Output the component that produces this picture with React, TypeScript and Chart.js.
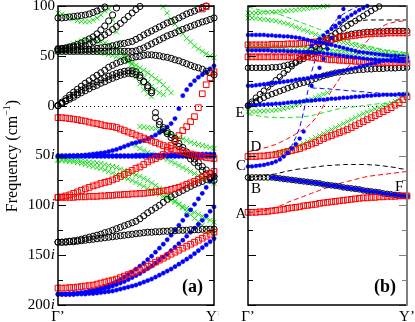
import React, { useEffect, useRef } from 'react';
import { Chart, registerables } from 'chart.js';
Chart.register(...registerables);

const _ = null;
type S = (number | null)[];

// wave-vector positions from Γ' (0) to Y' (1)
const K = [0, 0.025, 0.05, 0.075, 0.1, 0.125, 0.15, 0.175, 0.2, 0.225, 0.25, 0.275, 0.3, 0.325, 0.35, 0.375, 0.4, 0.425, 0.45, 0.475, 0.5, 0.525, 0.55, 0.575, 0.6, 0.625, 0.65, 0.675, 0.7, 0.725, 0.75, 0.775, 0.8, 0.825, 0.85, 0.875, 0.9, 0.925, 0.95, 0.975, 1];
const Y_TICKS = [100, 50, 0, -50, -100, -150, -200];
const X_LABELS = ['Γ’', 'Y’'];
const PANEL_LABELS = ['(a)', '(b)'];

// ---------- panel (a): frequencies in cm^-1, imaginary ones as negative ----------
const aBlack1: S = [0, 3.5, 7, 10.5, 13.5, 16.5, 19.5, 22.5, 25, 28, 30.5, 33, 35.5, 38.5, 40.5, 42.5, 44, 45.5, 47, 48, 49, 49.5, 50.5, 51, 51, 50.5, 50, 49, 48.5, 47.5, 46, 45, 43.5, 42, 40.5, 39, 38, 36.5, 34.5, 33, 31];
const aBlack2: S = [0, 2.5, 5, 8, 10.5, 13, 15.5, 18, 20, 22, 24, 26, 28, 29.5, 31, 32.5, 33.5, 34.5, 35, 35, 34, 30.5, 24, 18, 13, -7, -16, -22, -26, -29, -33, -38, -42, -46.5, -50, -53.5, -57, -61, -64.5, -68, -71];
const aBlack3: S = [0, 2, 4.5, 6.5, 8.5, 11, 13, 15, 17, 19, 20.5, 22.5, 24, 26, 27.5, 29, 30.5, 31.5, 32.5, 32, 31, 28, 24, 20, 15, -12, -19, -24, -28, -32, -36, -41, -45, -49.5, -53.5, -57, -61, -65, -68.5, -72, -75];
const aBlack4: S = [88, 88, 88.5, 89, 89.5, 90, 90.5, 91, 92, 93.5, 95, 97, 99, _, _, _, _, _, _, _, _, _, _, _, _, _, _, _, _, _, _, _, _, _, _, _, _, _, _, _, _];
const aBlack5: S = [57, 57.5, 58, 59, 60, 61.5, 63, 65, 67, 69, 72, 76, 80, 85, 91, 98, _, _, _, _, _, _, _, _, _, _, _, _, _, _, _, _, _, _, _, _, _, _, _, _, _];
const aBlack6: S = [57, 57, 57.5, 58, 58.5, 59, 59.5, 60.5, 62, 64, 66, 68.5, 71, 73.5, 76.5, 79.5, 82.5, 86, 89.5, 93, 96.5, 99.5, _, _, _, _, _, _, _, _, _, _, _, _, _, _, _, _, _, _, _];
const aBlack7: S = [56, 56, 56, 56, 56, 56, 56, 56.5, 56.5, 57, 57.5, 58, 58.5, 59, 60, 61, 62, 62.5, 63.5, 64.5, 66.5, 68.5, 71, 73, 75, 77, 79, 81, 83, 84.5, 86, 88, 90, 92, 93.5, 95, 97, 98.5, 100, _, _];
const aBlack8: S = [54.5, 54.5, 54.5, 54.5, 54.5, 54.5, 54.5, 54.5, 54.5, 54.5, 54.5, 54.5, 54.5, 54.5, 54.5, 54.5, 54.5, 54.5, 54.5, 54.5, 55, 56.5, 58, 60, 62, 64, 66, 68, 70, 71.5, 73, 75, 76.5, 78, 79.5, 81, 82.5, 84, 85, 86.5, 88];
const aBlack9: S = [-137, -137, -137, -136.5, -136.5, -136, -135.5, -135, -134.5, -134, -133.5, -133, -132.5, -132, -131.5, -131, -130.5, -130, -129.5, -129, -128.5, -128, -127.5, -127, -127, -126.5, -126.5, -126, -126, -125.5, -125.5, -125, -125, -125, -124.5, -124.5, -124.5, -124, -124, -124, -124];
const aBlack10: S = [-137, -137, -136.5, -136, -135.5, -135, -134, -133, -132, -131, -130, -129, -127.5, -126.5, -125, -123.5, -122, -120.5, -119, -117.5, -116, -113.5, -110.5, -107.5, -105, -102.5, -100, -97, -94, -91.5, -89, -87, -85, -83, -81, -79, -77.5, -76, -74, -72.5, -71];

const aRed1: S = [-12, -12, -12.5, -13, -13.5, -14, -15, -15.5, -16.5, -17.5, -18, -19, -20, -20.5, -21, -22, -23.5, -25, -26.5, -28, -29.5, -31, -32.5, -34, -35.5, -37, -38.5, -40, -41.5, -43, -44.5, -45.5, -46.5, -47.5, -48.5, -49.5, -50.5, -51, -52, -52.5, -53];
const aRed2: S = [-92, -91.5, -90.5, -89.5, -88, -86.5, -85, -83.5, -82, -80.5, -79.5, -78, -77, -76, -74.5, -73, -71, -69, -67, -65, -63, -61.5, -59, -56.5, -54.5, -53, -51, -49, -45, -40, -35, -30, -25, -21, -16, -11, -2, 12, 21, 28, 34];
const aRed3: S = [-92, -92, -92, -92, -92, -91.5, -91.5, -91.5, -91, -91, -91, -90.5, -90.5, -90, -90, -89.5, -89.5, -89, -89, -88.5, -88.5, -88, -88, -87.5, -87, -86.5, -86, -85.5, -85, -84, -83, -82, -80.5, -79, -77.5, -76, -74, -72, -70, -68, -66];
const aRed4: S = [-183, -183, -183, -182.5, -182.5, -182, -181.5, -181, -180.5, -180, -179, -178, -177, -176, -175, -174, -172.5, -171, -169.5, -168, -166.5, -165, -163, -161, -159, -157, -155, -153, -151, -149, -147, -145, -143, -141, -139, -137, -135, -133, -131, -129, -127];
const aRed5: S = [_, _, _, _, _, _, _, _, _, _, _, _, _, _, _, _, _, _, _, _, _, _, _, _, _, _, _, _, _, _, _, _, _, _, _, _, _, 97, 99.5, _, _];

const aBlue1: S = [-51, -51, -51, -51, -51, -51, -51, -51, -51, -51, -51, -51, -51, -51, -51, -51, -51, -51, -51, -51, -51, -51, -51, -51, -51, -51, -51, -51, -51, -51, -51, -51, -51, -51, -51, -51, -51, -51, -51, -51, -51];
const aBlue2: S = [-50, -50, -50, -50, -50, -50, -50, -50, -50, -50, -50, -50, -50, -50, -50, -50, -50, -50, -50, -50, -49.5, -49.5, -49.5, -49.5, -49.5, -49.5, -49.5, -49.5, -49, -49, -49, -49, -49, -49, -49, -48.5, -48.5, -48.5, -48.5, -48.5, -48.5];
const aBlue3: S = [-51, -51, -51, -50.5, -50.5, -50, -50, -49.5, -49, -48.5, -48, -47.5, -47, -46, -45, -44, -42.5, -41, -39.5, -38, -37, -36, -35, -33.5, -31.5, -29.5, -27, -24.5, -21.5, -18, -13, -3, 10, 16, 21, 25, 28.5, 31, 34, 37, 40];
const aBlue4: S = [-189, -189, -189, -188.5, -188.5, -188, -187.5, -187, -186, -185, -184, -183, -181.5, -180, -178.5, -176.5, -174.5, -172, -169.5, -167, -164, -161, -158, -154.5, -151, -147, -143, -139, -134.5, -130, -125, -120, -115, -110, -104.5, -99, -93.5, -88, -82, -76, -70];
const aBlue5: S = [-189, -189, -189, -189, -188.5, -188.5, -188, -187.5, -187, -186.5, -185.5, -184.5, -183.5, -182.5, -181, -179.5, -178, -176.5, -174.5, -172.5, -170.5, -168.5, -166, -163.5, -161, -158, -155, -152, -149, -145.5, -142, -138.5, -135, -131, -127, -123, -119, -115, -110.5, -106, -101.5];
const aBlue6: S = [-189.5, -189.5, -189.5, -189.5, -189.5, -189, -189, -189, -188.5, -188.5, -188, -187.5, -187, -186.5, -186, -185, -184, -183, -182, -181, -180, -178.5, -177, -175.5, -174, -172, -170, -168, -166, -164, -161.5, -159, -156.5, -154, -151.5, -148.5, -145.5, -142.5, -139.5, -136.5, -133.5];

const aGreen1: S = [93, 92, 90.5, 88.5, 87, 85.5, 84.5, 84, 84.5, 86, 88, 91, 95, 97, 86, 74, 63, 52, 44, 37, 29, 22, 16, 12, 9, _, _, _, _, _, _, _, _, _, _, _, _, _, _, _, _];
const aGreen2: S = [55, 56.5, 58, 60, 62, 63.5, 65, 66, 66, 65.5, 65, 64, 63, 61, 59, 56.5, 53.5, 50, 46, 41.5, 37, 32.5, 28, 23.5, 19.5, 16, 13, 11, _, _, _, _, _, _, _, _, _, _, _, _, _];
const aGreen3: S = [54, 54, 54, 54, 54, 54, 54, 54, 54, 54, 54, 53.5, 52.5, 51.5, 50.5, 49, 48, 46.5, 44.5, 42.5, 40.5, 38, 35.5, 33, 30, 27, 24.5, 21, 17, 13, _, _, _, _, _, _, _, _, _, _, _];
const aGreen4: S = [_, _, _, _, _, _, _, _, _, _, _, _, _, _, _, _, _, _, _, _, _, _, _, _, _, _, _, 99, 93, 87, 82, 77, 72, 67.5, 64, 60, 57, 54.5, 52, 50, 48];
const aGreen5: S = [-54, -54, -54, -54.5, -54.5, -55, -55.5, -56, -56.5, -57, -57.5, -58, -59, -60, -61, -62, -63.5, -65, -66.5, -68, -69.5, -71, -73, -75, -77.5, -80, -83, -86, -89, -92, -95.5, -99, -102.5, -106, -109.5, -113, -116.5, -120, -123.5, -127, -130.5];
const aGreen6: S = [-55, -55, -55.5, -56, -56.5, -57, -58, -59, -60, -61, -62, -63, -64.5, -66, -67.5, -69, -70.5, -72, -73.5, -75, -77, -79, -81, -83, -85, -87, -89, -91, -93, -95, -97, -99, -101, -103, -105, -107, -109, -111, -113, -115, -117];
const aGreen7: S = [_, _, _, _, _, _, _, _, _, _, _, _, _, _, _, _, _, _, _, -38, -40, -43, -45, -47, -48.5, -50, -51, -52.5, -54, -56, -58, -60, -62, -64, -66, -68, -70, -72, -74, -76, -78];
const aGreen8: S = [_, _, _, _, _, _, _, _, _, _, _, _, _, _, _, _, _, _, _, _, _, -21, -21.5, -22, -22.5, -23, -24.5, -26, -27.5, -29, -30.5, -32, -33.5, -35, -36.5, -38, -39, -40, -41, -42, -43];

// ---------- panel (b) ----------
const bRed1: S = [-107, -107, -107, -106.5, -106.5, -106, -105.5, -105, -104.5, -104, -103, -102.5, -102, -101.5, -100.5, -100, -99.5, -99, -98, -97.5, -97, -96.5, -96, -95.5, -95, -94.5, -94, -93.5, -93, -92.5, -92.5, -92, -92, -91.5, -91.5, -91, -91, -91, -90.5, -90.5, -90.5];
const bRed2: S = [-51, -51, -51, -50.5, -50.5, -50, -49.5, -49, -48, -47, -46, -45, -44, -43, -41.5, -40, -38.5, -37, -35, -33, -31.5, -30, -28.5, -27, -25.5, -24, -22, -20, -18, -16, -14, -12, -10, -8, -6, -4, -2, 0.5, 3, 6, 9];
const bRed3: S = [49, 49, 49, 49, 49, 49, 49, 49, 49, 49, 49, 49, 49, 49, 49, 49, 48.5, 48, 47.5, 47, 46.5, 46, 46, 45.5, 45.5, 45, 45, 44.5, 44.5, 44, 44, 44, 43.5, 43.5, 43.5, 43, 43, 43, 43, 43, 43];
const bRed4: S = [61, 61, 61, 61, 61, 61, 61.5, 61.5, 61.5, 61.5, 62, 62, 62, 62.5, 62.5, 63, 63.5, 64, 64.5, 65, 65.5, 66.5, 67.5, 68.5, 69, 69.5, 70, 70.5, 71, 71.5, 72, 72, 72.5, 72.5, 72.5, 73, 73, 73, 73, 73, 73];
const bRedDash1: S = [-107, -107, -106.5, -106, -105.5, -104.5, -103.5, -102, -100.5, -99, -97, -95.5, -94, -92.5, -91, -89.5, -88, -86.5, -85, -83.5, -82, -80.5, -79, -78, -77, -76, -75, -74, -73, -72, -71, -70.5, -70, -69.5, -69, -68.5, -68, -67.5, -67, -66.5, -66];
const bRedDash2: S = [-46, -45.5, -44.5, -43.5, -42.5, -41.5, -40, -39, -37, -35, -33, -31, -28.5, -26, -23.5, -21, -17, -12.5, -7, 0, 8, 15, 21, 27, 33, 38, 43, 49, 55, 60, 65, 69.5, 73.5, 77, 80, 82, 83, 84, 84.5, 85, 85];
const bRedDash3: S = [51, 51, 51, 51, 51, 51, 51, 51, 51, 51, 50.5, 50.5, 50.5, 50, 50, 50, 49.5, 49.5, 49, 49, 48.5, 48.5, 48, 48, 47.5, 47.5, 47, 47, 47, 46.5, 46.5, 46.5, 46, 46, 46, 46, 46, 46, 46, 46, 46];

const bBlack1: S = [-72, -72, -72, -72, -72, -72, -72, -72.5, -73, -73.5, -74, -74.5, -75, -75.5, -76, -76.5, -77, -77.5, -78, -79, -79.5, -80, -80.5, -81, -82, -82.5, -83, -83.5, -84, -85, -85.5, -86, -86.5, -87, -88, -88.5, -89, -89.5, -90, -90.5, -91];
const bBlack2: S = [0, 4, 8, 11.5, 15, 18.5, 22, 25.5, 29, 32.5, 36, 39.5, 43, 46.5, 50, 53, 56, 59, 62, 65, 67.5, 70, 72.5, 75, 77.5, 80, 82.5, 85, 87.5, 90, 92.5, 95, 97.5, 99.5, _, _, _, _, _, _, _];
const bBlack3: S = [0, 2, 4, 6, 8, 10, 11.5, 13, 14.5, 16, 17.5, 19, 20.5, 22, 23, 24, 25.5, 27, 28.5, 30, 31, 32, 33, 33.5, 34, 34.5, 35, 35.5, 36, 36, 36.5, 36.5, 37, 37, 37, 37.5, 37.5, 37.5, 38, 38, 38];
const bBlack4: S = [38, 38, 38, 38, 38, 38, 38.5, 38.5, 39, 40, 41, 42, 43.5, 45, 47, 49, 51.5, 54, 57, 60, 62.5, 65, 67, 68.5, 70, 71, 72, 72.5, 73, 73.5, 74, 74, 74.5, 74.5, 74.5, 75, 75, 75, 75, 75, 75];
const bBlackDash1: S = [-72, -71.5, -71, -70.5, -70, -69.5, -69, -68.5, -67.5, -66.5, -65.5, -65, -64, -63.5, -63, -62.5, -62, -61.5, -61, -60.5, -60, -60, -59.5, -59.5, -59, -59, -59, -59, -59, -59, -59, -59.5, -59.5, -60, -60.5, -61, -61.5, -62, -63, -63.5, -64.5];
const bBlackDash2: S = [0, 3.5, 7, 10.5, 14, 17.5, 21, 24, 27.5, 31, 34.5, 38, 41.5, 45, 48.5, 52, 55.5, 59, 62.5, 66, 69, 72.5, 76, 79.5, 83, 86.5, 90, 93.5, 97, 100, _, _, _, _, _, _, _, _, _, _, _];
const bBlackDash3: S = [_, _, _, _, _, _, _, _, _, _, _, _, _, _, _, _, _, _, _, _, _, 80, 81.5, 82.5, 83.5, 84, 84.5, 85, 85.5, 85.5, 86, 86, 86, 86, 86, 86, 86, 86, 86, 86, 86];

const bBlue1: S = [-61, -61, -60.5, -60, -59.5, -58.5, -57.5, -56, -54, -51, -47.5, -43, -38.5, -33, -26, _, 20, 30, 38, 47, 57, 68, 79, 89, 97, _, _, _, _, _, _, _, _, _, _, _, _, _, _, _, _];
const bBlue2: S = [0, 0.5, 0.5, 1, 1, 1.5, 1.5, 2, 2, 2.5, 3, 3.5, 3.5, 4, 4.5, 5, 5, 5.5, 6, 6, 6.5, 7, 7, 7.5, 8, 8, 8.5, 9, 9, 9.5, 10, 10, 10.5, 10.5, 11, 11, 11, 11, 11.5, 11.5, 11.5];
const bBlue3: S = [20, 20, 20.5, 21, 21.5, 22, 22.5, 23, 23.5, 24, 24.5, 25, 26, 26.5, 27, 27.5, 28.5, 29, 29.5, 30.5, 31, 32, 33, 34, 35, 36, 37, 38, 39, 40, 41, 42, 43, 44, 45, 45.5, 46, 46.5, 47, 47.5, 48];
const bBlue4: S = [55.5, 55.5, 55.5, 55.5, 55.5, 55.5, 55, 55, 55, 55, 54.5, 54.5, 54.5, 54, 54, 53.5, 53.5, 53, 53, 52.5, 52, 51.5, 51, 50.5, 50, 49.5, 49, 48.5, 48, 47.5, 47, 46.5, 46.5, 46, 46, 45.5, 45, 45, 44.5, 44.5, 44];
const bBlue5: S = [71, 71, 71, 71, 71, 70.5, 70.5, 70, 70, 69.5, 69.5, 69, 68.5, 68, 67, 66, 65, 64, 63.5, 63, 62, 61, 60, 59, 58, 57, 56, 55, 54, 53.5, 53, 52.5, 52, 51.5, 51, 50.5, 50, 50, 49.5, 49.5, 49];
const bBlue6: S = [_, _, _, _, _, _, _, _, _, _, _, _, _, _, _, _, 60, 63.5, 67, 70.5, 74, 77, 80, 83, 86, 88.5, 91, 93.5, 96, 98, 100, _, _, _, _, _, _, _, _, _, _];
const bBlue7: S = [_, _, _, _, _, _, -72, -72.5, -73, -73.5, -74, -74.5, -75, -75.5, -76, -76.5, -77, -77.5, -78, -79, -79.5, -80, -80.5, -81, -82, -82.5, -83, -83.5, -84, -85, -85.5, -86, -86.5, -87, -88, -88.5, -89, -89.5, -90, -90.5, -91];
const bBlueDash1: S = [-60, -60, -59.5, -59, -58.5, -58, -57, -56, -53, -49, -44, -40, -32, -22, -6, 14, 34, 47, 58, 67, 74, 80, 85, 89, 92, 94.5, 96.5, 98.5, 100, _, _, _, _, _, _, _, _, _, _, _, _];
const bBlueDash2: S = [_, _, _, _, _, _, _, _, _, _, _, _, _, _, _, _, 18, 17.5, 17.5, 17, 17, 16.5, 16, 16, 15.5, 15, 15, 14.5, 14, 14, 13.5, 13, 13, 12.5, 12, 11.5, 11, 10.5, 10, 9.5, 9];

const bGreen1: S = [93, 93, 93, 93, 93.5, 93.5, 94, 94, 94.5, 95, 95, 95.5, 96, 96.5, 97, 97.5, 98, 98.5, 99, 99.5, 100, _, _, _, _, _, _, _, _, _, _, _, _, _, _, _, _, _, _, _, _];
const bGreen2: S = [88, 88, 87.5, 87, 86.5, 86, 85.5, 85, 84, 83, 82, 80.5, 79, 77.5, 76, 74.5, 73, 71.5, 70, 68.5, 67.5, 66.5, 65.5, 64.5, 63.5, 62.5, 61.5, 60.5, 59.5, 58.5, 57.5, 57, 56, 55.5, 54.5, 54, 53.5, 52.5, 52, 51.5, 51];
const bGreen3: S = [59, 59, 59, 59, 59, 59, 58.5, 58.5, 58.5, 58, 58, 57.5, 57.5, 57, 57, 56.5, 56.5, 56, 56, 55.5, 55, 55, 54.5, 54, 54, 53.5, 53, 53, 52.5, 52, 52, 51.5, 51, 51, 50.5, 50.5, 50, 50, 50, 49.5, 49.5];
const bGreen4: S = [-6, -6, -6, -5.5, -5.5, -5, -5, -4.5, -4, -3, -2, -1, 0.5, 2, 3.5, 5, 6.5, 8, 10, 11.5, 13, _, _, _, _, _, _, _, _, _, _, _, _, _, _, _, _, _, _, _, _];
const bGreen5: S = [_, _, _, _, _, _, _, -48, -47, -46, -44.5, -43, -41, -39.5, -38, -36, -34, -32, -30, -28, -26, -24, -22, -20, -18, -16, -14, -12, -10, -8, -6.5, -5, -3.5, -2, -0.5, 1, 2.5, 4.5, 7, 9.5, 12];
const bGreenDash1: S = [99, 98, 97, 96, 95, 94, 93.5, 93, 91.5, 90, 88.5, 87, 85.5, 84, 82.5, 81, 79.5, 78, 76.5, 75, 73.5, 72, 70.5, 69, 67.5, 66, 64.5, 63, 62, 61, 60, 59, 58, 57, 56, 55.5, 55, 54.5, 54, 53.5, 53];
const bGreenDash2: S = [-9, -9.5, -10, -10.5, -11, -11.5, -11.5, -12, -12, -12, -12, -12, -11.5, -11.5, -11, -10.5, -10, -9, -8, -7, -6, -5, -4, -3, -2.5, -2, -1.5, -1, -0.5, 0, 0.5, 1, 1.5, 2, 2, 2.5, 3, 3, 3.5, 3.5, 4];
const bGreenDash3: S = [62, 62, 62, 61.5, 61.5, 61, 61, 60.5, 60.5, 60, 60, 59.5, 59, 59, 58.5, 58, 58, 57.5, 57, 57, 56.5, 56, 56, 55.5, 55, 55, 54.5, 54, 54, 53.5, 53, 53, 52.5, 52, 52, 51.5, 51, 51, 50.5, 50.5, 50];

// point labels of panel (b): [text, k, frequency]
const B_LETTERS: [string, number, number][] = [
  ['E', -0.05, -7], ['D', 0.05, -42], ['C', -0.044, -61], ['B', 0.05, -84], ['A', -0.044, -109], ['F', 0.95, -82],
];

// ---------- styling ----------
const FONT = '"Liberation Serif", "Times New Roman", serif';
const RED = '#ff0000';
const BLUE = '#0000ff';
const GREEN = '#18dd18';
const BLACK = '#000000';

const pts = (ys: S) => K.map((x, i) => ({ x, y: ys[i] }));

const circle = (ys: S, r = 3.1) => ({
  data: pts(ys), showLine: false, pointStyle: 'circle', pointRadius: r, pointBorderWidth: 1,
  pointBorderColor: BLACK, pointBackgroundColor: 'rgba(0,0,0,0)', borderColor: BLACK, clip: false as any,
});
const square = (ys: S, r = 4) => ({
  data: pts(ys), showLine: false, pointStyle: 'rect', pointRadius: r, pointBorderWidth: 1,
  pointBorderColor: RED, pointBackgroundColor: 'rgba(0,0,0,0)', borderColor: RED, clip: false as any,
});
const dot = (ys: S, r = 2.1) => ({
  data: pts(ys), showLine: false, pointStyle: 'circle', pointRadius: r, pointBorderWidth: 0.5,
  pointBorderColor: BLUE, pointBackgroundColor: BLUE, borderColor: BLUE, clip: false as any,
});
const cross = (ys: S, r = 3.6) => ({
  data: pts(ys), showLine: false, pointStyle: 'crossRot', pointRadius: r, pointBorderWidth: 1,
  pointBorderColor: GREEN, pointBackgroundColor: GREEN, borderColor: GREEN, clip: false as any,
});
const dash = (ys: S, color: string) => ({
  data: pts(ys), showLine: true, pointRadius: 0, borderWidth: 1, borderColor: color,
  borderDash: [5, 3], tension: 0, spanGaps: false, fill: false,
});

function line(ctx: CanvasRenderingContext2D, x1: number, y1: number, x2: number, y2: number) {
  ctx.beginPath(); ctx.moveTo(x1, y1); ctx.lineTo(x2, y2); ctx.stroke();
}

function axesPlugin(panel: number) {
  return {
    id: 'axes' + panel,
    beforeDatasetsDraw(chart: any) {
      const { ctx, chartArea: ca, scales } = chart;
      const y0 = Math.round(scales.y.getPixelForValue(0)) + 0.5;
      ctx.save();
      ctx.strokeStyle = BLACK; ctx.lineWidth = 1; ctx.setLineDash([1, 3]);
      line(ctx, ca.left, y0, ca.right, y0);
      ctx.restore();
    },
    afterDatasetsDraw(chart: any) {
      const { ctx, chartArea: ca, scales } = chart;
      const ys = scales.y, xs = scales.x;
      const rightColor = panel === 1 ? '#808080' : BLACK;
      ctx.save();
      ctx.setLineDash([]);
      // ticks every 25 cm^-1, longer every 50
      for (let v = ys.min; v <= ys.max; v += 25) {
        const py = Math.round(ys.getPixelForValue(v)) + 0.5;
        const len = v % 50 === 0 ? 8 : 5;
        ctx.lineWidth = 1;
        ctx.strokeStyle = BLACK; line(ctx, ca.left, py, ca.left + len, py);
        ctx.strokeStyle = rightColor; line(ctx, ca.right - len, py, ca.right, py);
      }
      // frame
      ctx.lineWidth = 1.5; ctx.strokeStyle = BLACK;
      ctx.beginPath();
      ctx.moveTo(ca.right, ca.top); ctx.lineTo(ca.left, ca.top); ctx.lineTo(ca.left, ca.bottom); ctx.lineTo(ca.right, ca.bottom);
      ctx.stroke();
      ctx.lineWidth = panel === 1 ? 2 : 1.5; ctx.strokeStyle = rightColor;
      line(ctx, ca.right, ca.top - 0.75, ca.right, ca.bottom + 0.75);

      ctx.fillStyle = BLACK;
      // x labels
      ctx.font = `15px ${FONT}`; ctx.textAlign = 'center'; ctx.textBaseline = 'alphabetic';
      ctx.fillText(X_LABELS[0], xs.getPixelForValue(0), 321);
      ctx.fillText(X_LABELS[1], xs.getPixelForValue(1), 321);
      // panel label
      ctx.font = `bold 18px ${FONT}`; ctx.textAlign = 'right'; ctx.textBaseline = 'middle';
      ctx.fillText(PANEL_LABELS[panel], ca.right - 11, 287);

      if (panel === 0) {
        ctx.textBaseline = 'middle';
        for (const v of Y_TICKS) {
          const py = ys.getPixelForValue(v);
          const num = String(Math.abs(v));
          const xr = ca.left - 3;
          ctx.textAlign = 'right';
          if (v < 0) {
            ctx.font = `italic 15px ${FONT}`;
            const wi = ctx.measureText('i').width;
            ctx.fillText('i', xr, py);
            ctx.font = `15px ${FONT}`;
            ctx.fillText(num, xr - wi - 0.5, py);
          } else {
            ctx.font = `15px ${FONT}`;
            ctx.fillText(num, xr, py);
          }
        }
        // y title
        ctx.save();
        ctx.translate(13, 156);
        ctx.rotate(-Math.PI / 2);
        const mainTxt = 'Frequency (cm';
        ctx.font = `16px ${FONT}`;
        const w1 = ctx.measureText(mainTxt).width;
        const w3 = ctx.measureText(')').width;
        ctx.font = `10px ${FONT}`;
        const w2 = ctx.measureText('−1').width;
        const x0 = -(w1 + w2 + w3) / 2;
        ctx.textAlign = 'left'; ctx.textBaseline = 'middle';
        ctx.font = `16px ${FONT}`; ctx.fillText(mainTxt, x0, 0);
        ctx.font = `10px ${FONT}`; ctx.fillText('−1', x0 + w1, -6);
        ctx.font = `16px ${FONT}`; ctx.fillText(')', x0 + w1 + w2, 0);
        ctx.restore();
      } else {
        ctx.font = `15px ${FONT}`; ctx.textAlign = 'center'; ctx.textBaseline = 'middle';
        for (const [t, k, f] of B_LETTERS) {
          ctx.fillText(t, xs.getPixelForValue(k), ys.getPixelForValue(f));
        }
      }
      ctx.restore();
    },
  };
}

function makeChart(canvas: HTMLCanvasElement, datasets: any[], panel: number, padding: any) {
  return new Chart(canvas, {
    type: 'line',
    data: { datasets },
    options: {
      animation: false,
      responsive: false,
      devicePixelRatio: 1,
      layout: { padding },
      plugins: { legend: { display: false }, tooltip: { enabled: false } },
      scales: {
        x: { type: 'linear', min: 0, max: 1, display: false },
        y: { type: 'linear', min: -200, max: 100, display: false },
      },
    } as any,
    plugins: [axesPlugin(panel)],
  } as any);
}

export default function App() {
  const refA = useRef<HTMLCanvasElement>(null);
  const refB = useRef<HTMLCanvasElement>(null);

  useEffect(() => {
    const dsA = [
      ...[aRed1, aRed2, aRed3, aRed4, aRed5].map((s) => square(s)),
      ...[aBlack1, aBlack2, aBlack3, aBlack4, aBlack5, aBlack6, aBlack7, aBlack8, aBlack9, aBlack10].map((s) => circle(s)),
      ...[aBlue1, aBlue2, aBlue3, aBlue4, aBlue5, aBlue6].map((s) => dot(s)),
      ...[aGreen1, aGreen2, aGreen3, aGreen4, aGreen5, aGreen6, aGreen7, aGreen8].map((s) => cross(s)),
    ];
    const dsB = [
      ...[bBlue1, bBlue2, bBlue3, bBlue4, bBlue5, bBlue6, bBlue7].map((s) => dot(s, 1.9)),
      ...[bRed1, bRed2, bRed3, bRed4].map((s) => square(s, 4)),
      ...[bBlack1, bBlack2, bBlack3, bBlack4].map((s) => circle(s, 2.8)),
      ...[bGreen1, bGreen2, bGreen3, bGreen4, bGreen5].map((s) => cross(s, 3.3)),
      dash(bRedDash1, RED), dash(bRedDash2, RED), dash(bRedDash3, RED),
      dash(bBlackDash1, BLACK), dash(bBlackDash2, BLACK), dash(bBlackDash3, BLACK),
      dash(bBlueDash1, BLUE), dash(bBlueDash2, BLUE),
      dash(bGreenDash1, GREEN), dash(bGreenDash2, GREEN), dash(bGreenDash3, GREEN),
    ];
    const cA = makeChart(refA.current!, dsA, 0, { left: 58, right: 3, top: 6, bottom: 17 });
    const cB = makeChart(refB.current!, dsB, 1, { left: 29, right: 8, top: 6, bottom: 17 });
    return () => { cA.destroy(); cB.destroy(); };
  }, []);

  return (
    <div style={{ position: 'fixed', left: 0, top: 0, width: 415, height: 322, background: '#fff' }}>
      <canvas ref={refA} width={219} height={322} style={{ position: 'absolute', left: 0, top: 0, width: 219, height: 322 }} />
      <canvas ref={refB} width={196} height={322} style={{ position: 'absolute', left: 219, top: 0, width: 196, height: 322 }} />
    </div>
  );
}
